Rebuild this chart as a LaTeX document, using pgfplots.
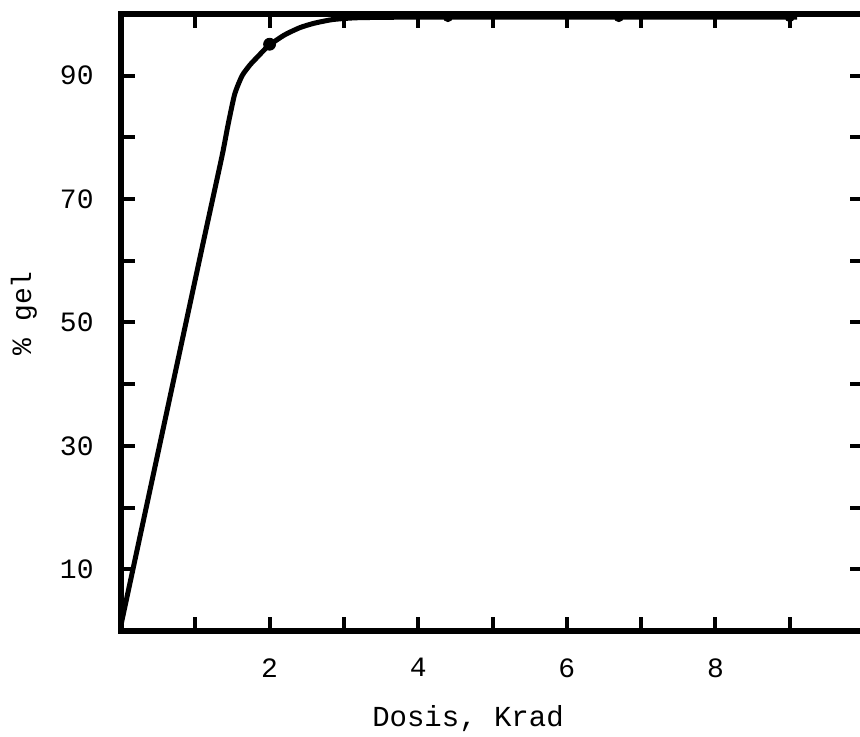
\documentclass[border=0pt]{standalone}
\usepackage{fontspec}
\setmainfont{Liberation Mono}
\usepackage{pgfplots}
\pgfplotsset{compat=1.18}
\begin{document}
\begin{tikzpicture}
\begin{axis}[
  name=ax,
  scale only axis,
  width=371.5pt, height=308.5pt,
  xmin=0, xmax=10, ymin=0, ymax=100,
  axis line style={line width=2.8pt},
  xtick={1,2,...,9},
  xticklabels={,2,,4,,6,,8,},
  ytick={10,20,...,90},
  yticklabels={10,,30,,50,,70,,90},
  tick align=inside,
  major tick length=7pt,
  tick style={line width=2pt, black},
  /pgf/number format/assume math mode=true,
  xticklabel style={font=\fontsize{14}{16}\selectfont, inner sep=0pt, anchor=north, yshift=-13.5pt},
  yticklabel style={font=\fontsize{14}{16}\selectfont, inner sep=0pt, anchor=east, xshift=-13.5pt},
  xlabel={Dosis, Krad},
  ylabel={\% gel},
  xlabel style={font=\fontsize{14.5}{16}\selectfont, at={(axis description cs:0.467,-0.1426)}, anchor=center},
  ylabel style={font=\fontsize{14}{16}\selectfont, at={(axis description cs:-0.1306,0.515)}, anchor=center},
  clip=false,
]
\addplot[black, line width=2.5pt, line join=round, smooth, tension=0.35] coordinates {
(0,1) (0.35,20.6) (0.75,43) (1.10,62.6) (1.36,77) (1.44,82) (1.53,87) (1.63,90) (1.74,91.8) (1.85,93.2) (1.98,94.8) (2.2,96.6) (2.41,97.8) (2.6,98.5) (2.85,99.1) (3.2,99.4) (4,99.5) (5,99.5) (6,99.5) (7,99.5) (8,99.5) (9.1,99.5)
};
\addplot[only marks, mark=*, mark size=3pt, black] coordinates {
(2,95.1)
};
\addplot[only marks, mark=*, mark size=2.3pt, black] coordinates {
(4.4,99.5) (6.7,99.5) (9,99.5)
};
\end{axis}
\pgfresetboundingbox
\useasboundingbox ([shift={(-60.5pt,-53pt)}]ax.south west) rectangle ([shift={(369.5pt,315.5pt)}]ax.south west);
\end{tikzpicture}
\end{document}
